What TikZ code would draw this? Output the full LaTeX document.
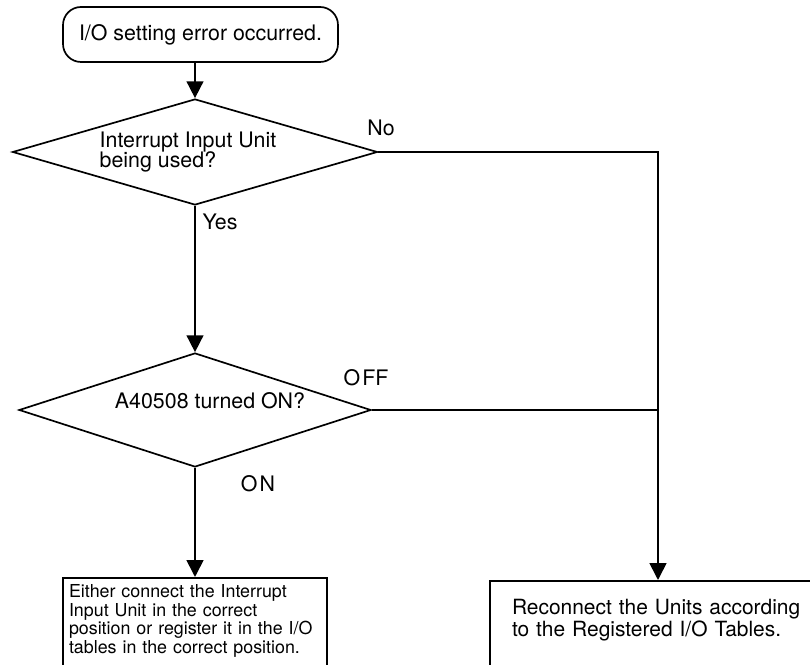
\documentclass[tikz,border=0pt]{standalone}
\usepackage{fontspec}
\setmainfont{TeX Gyre Heros}
\usetikzlibrary{arrows.meta,shapes.geometric}
\setlength{\lineskiplimit}{-\maxdimen}

\begin{document}
\begin{tikzpicture}[
    line width=1.2pt,
    >={Triangle[length=0.42cm,width=0.42cm]},
    terminal/.style={draw, rounded corners=0.45cm, minimum width=6.875cm,
                     minimum height=1.375cm, font=\fontsize{15.2}{18}\selectfont},
    decision/.style={draw, diamond, inner sep=0pt},
    lbl/.style={inner sep=0pt, font=\fontsize{15.2}{14.2}\selectfont},
    action/.style={draw, rectangle, align=left, inner ysep=0pt, text depth=2cm}
]
    \useasboundingbox (0,0) rectangle (20.25,16.625);
    \clip (0,0) rectangle (20.25,16.625);

    % Start
    \node[terminal] (start) at (5.0125,15.7625) {I/O setting error occurred.};

    % Decisions
    \node[decision, minimum width=9.125cm, minimum height=2.65cm] (q1) at (4.875,12.825) {};
    \node[lbl, align=left] (q1text) at (4.7,12.8125) {Interrupt Input Unit\\being used?};
    \node[decision, minimum width=8.8cm, minimum height=2.85cm] (q2) at (4.875,6.375) {};
    \node[lbl] (q2text) at (5.25,6.5975) {A40508 turned ON?};

    % Actions
    \node[action, anchor=north, text width=6.3cm, inner xsep=0.15cm, text height=0.5cm,
          font=\fontsize{12.7}{13.1}\selectfont] (fail) at (4.875,2.2)
        {Either connect the Interrupt\\ Input Unit in the correct\\
         position or register it in the I/O\\ tables in the correct position.};
    \node[action, anchor=north, text width=7.3cm, inner xsep=0.55cm, text height=0.85cm,
          font=\fontsize{14.9}{12.8}\selectfont] (fix) at (16.45,2.125)
        {Reconnect the Units according\\ to the Registered I/O Tables.};

    % Connectors
    \draw[->] (start.south -| q1.north) -- (q1.north);
    \draw[->] (q1.south) -- (q2.north);
    \draw[->] (q2.south) -- (q2.south |- fail.north);
    \draw[->] (q1.east) -| (fix.north);
    \draw (q2.east) -- (q2.east -| fix.north);

    % Branch labels
    \node[lbl] (no) at (9.525,13.425) {No};
    \node[lbl] (yes) at (5.5,11.0875) {Yes};
    \node[lbl] (off) at (9.15,7.175) {O\kern1.5pt FF};
    \node[lbl] (on) at (6.45,4.525) {O\kern1.5pt N};
\end{tikzpicture}
\end{document}
